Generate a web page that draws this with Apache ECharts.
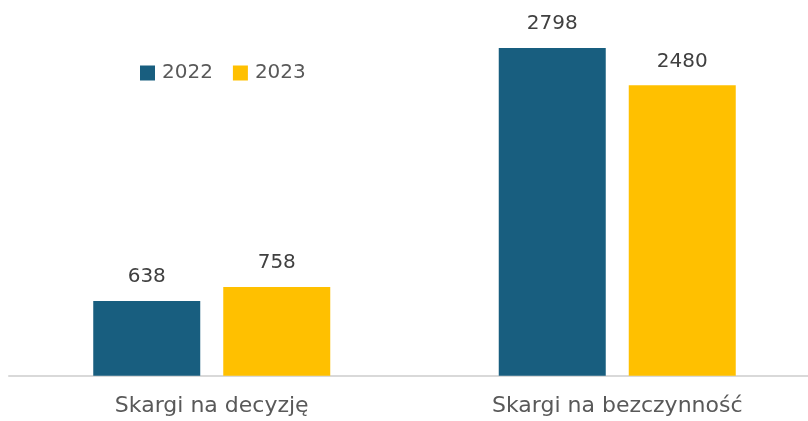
<!DOCTYPE html>
<html>
    <head>
        <meta charset="utf-8">
        <script src="https://cdn.jsdelivr.net/npm/echarts@6/dist/echarts.min.js"></script>
        <style>
            html, body { margin: 0; padding: 0; background: #ffffff; }
        </style>
    </head>
    <body>
        <div id="main" style="width: 808px; height: 421px"></div>
        <script type="text/javascript">
            const categories = ['Skargi na decyzję', 'Skargi na bezczynność'];
            const seriesNames = ['2022', '2023'];
            const values2022 = [638, 2798];
            const values2023 = [758, 2480];

            const colors = ['#185e7f', '#ffc000'];
            const font = 'DejaVu Sans';

            var chartDom = document.getElementById('main');
            var myChart = echarts.init(chartDom);

            const labelStyle = {
                show: true,
                position: 'top',
                distance: 14,
                color: '#404040',
                fontFamily: font,
                fontSize: 20
            };

            var option = {
                animation: false,
                color: colors,
                legend: {
                    left: 140,
                    top: 63,
                    padding: 0,
                    itemWidth: 15,
                    itemHeight: 15,
                    itemGap: 20,
                    icon: 'rect',
                    textStyle: { color: '#595959', fontFamily: font, fontSize: 20, padding: [0, 0, 0, 2] },
                    data: seriesNames
                },
                grid: {
                    left: 9,
                    right: -12,
                    top: 1,
                    bottom: 45.3,
                    outerBoundsMode: 'none',
                    containLabel: false
                },
                xAxis: {
                    type: 'category',
                    data: categories,
                    axisLine: { lineStyle: { color: '#d9d9d9', width: 2 } },
                    axisTick: { show: false },
                    axisLabel: {
                        color: '#595959',
                        fontFamily: font,
                        fontSize: 22,
                        margin: 20
                    }
                },
                yAxis: {
                    type: 'value',
                    min: 0,
                    max: 3200,
                    show: false,
                    splitLine: { show: false }
                },
                series: [
                    {
                        name: seriesNames[0],
                        type: 'bar',
                        data: values2022,
                        barWidth: 107,
                        barGap: '21.5%',
                        label: labelStyle
                    },
                    {
                        name: seriesNames[1],
                        type: 'bar',
                        data: values2023,
                        barWidth: 107,
                        barGap: '21.5%',
                        label: labelStyle
                    }
                ]
            };

            option && myChart.setOption(option);
        </script>
    </body>
</html>
